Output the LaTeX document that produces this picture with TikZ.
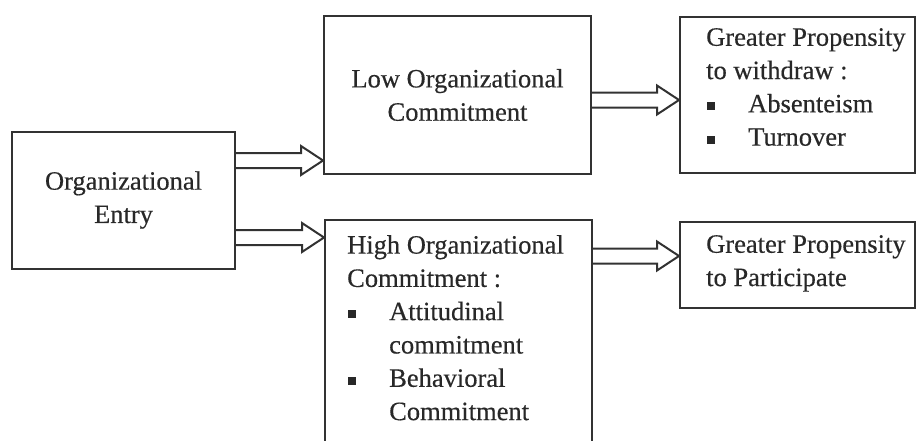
\documentclass[tikz,border=0pt]{standalone}
\usepackage{fontspec}
\setmainfont{Liberation Serif}[FakeBold=0.4]
\usetikzlibrary{calc}
\definecolor{ink}{RGB}{40, 40, 40}
\definecolor{lineg}{RGB}{50, 50, 50}

% square bullet for the lists inside the boxes
\newcommand{\sqb}{\makebox[42pt][l]{\hspace{1pt}\rule[2pt]{8pt}{8pt}}}
% hollow block arrow from #1 to tip #2 (same height)
\newcommand{\fatarrow}[2]{%
  \draw[arr] ($(#1)+(0,-7.5)$) -- ($(#2)+(-22,-7.5)$) -- ($(#2)+(-22,-14.5)$)
    -- (#2) -- ($(#2)+(-22,14.5)$) -- ($(#2)+(-22,7.5)$) -- ($(#1)+(0,7.5)$);}

\begin{document}
\begin{tikzpicture}[x = 1pt, y = -1pt,
		box/.style = {draw = lineg, line width = 2pt, inner sep = 0pt},
		txt/.style = {inner sep = 0pt, align = left, text = ink, font = \fontsize{26.5}{33.3}\selectfont},
		arr/.style = {draw = lineg, line width = 2pt, line join = miter}]
			\useasboundingbox (0,0) rectangle (916,440);
			\clip (0,0) rectangle (916,440);
			\node (entry) at (123.5,200) [box, minimum width = 223pt, minimum height = 137pt, txt, align = center] {Organizational\\Entry};
			\node (low) at (457.5,95) [box, minimum width = 267pt, minimum height = 158pt, txt, align = center] {Low Organizational\\Commitment};
			\node (high) at (458.5,345) [box, minimum width = 267pt, minimum height = 250pt] {};
			\node (wd) at (797.5,95) [box, minimum width = 235pt, minimum height = 156pt] {};
			\node (part) at (797.5,265) [box, minimum width = 235pt, minimum height = 86pt] {};
			\node (hightext) at ($(high.north west)+(23,16)$) [txt, anchor = north west] {High Organizational\\Commitment :\\\sqb Attitudinal\\\hspace*{42pt}commitment\\\sqb Behavioral\\\hspace*{42pt}Commitment};
			\node (wdtext) at ($(wd.north west)+(27,12)$) [txt, anchor = north west] {Greater Propensity\\to withdraw :\\\sqb Absenteism\\\sqb Turnover};
			\node (parttext) at ($(part.north west)+(27,14)$) [txt, anchor = north west] {Greater Propensity\\to Participate};
			\coordinate (e1) at ($(entry.north east)+(0,30)$);
			\coordinate (e1t) at (low.west |- e1);
			\coordinate (e2) at ($(entry.south east)+(0,-32)$);
			\coordinate (e2t) at (high.west |- e2);
			\coordinate (l1) at ($(low.east)+(0,5)$);
			\coordinate (l1t) at (wd.west |- l1);
			\coordinate (h1) at ($(high.north east)+(0,37)$);
			\coordinate (h1t) at (part.west |- h1);
			\fatarrow{e1}{e1t}
			\fatarrow{e2}{e2t}
			\fatarrow{l1}{l1t}
			\fatarrow{h1}{h1t}
			\end{tikzpicture}
\end{document}
